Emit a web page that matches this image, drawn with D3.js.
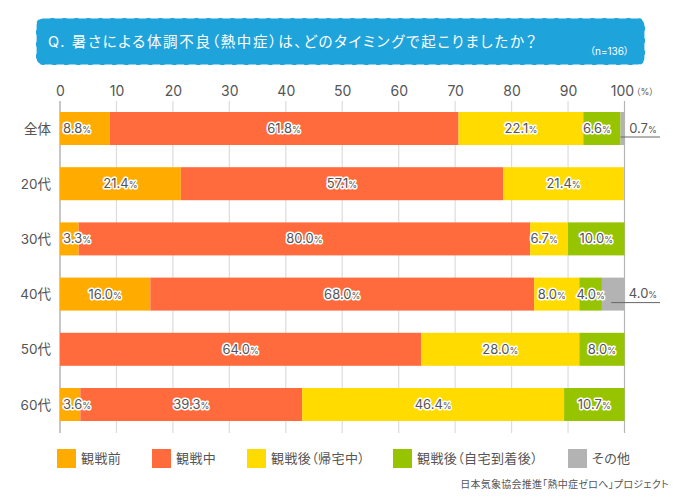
<!DOCTYPE html>
<html>
<head>
<meta charset="utf-8">
<script src="https://cdn.jsdelivr.net/npm/d3@7"></script>
<style>
  html, body { margin: 0; padding: 0; background: #fff; }
  text { font-family: Inter, "Noto Sans CJK JP", sans-serif; fill: #555; font-feature-settings: "palt"; }
</style>
</head>
<body>
<svg id="chart" width="680" height="498"></svg>
<script>
var categories = ["全体", "20代", "30代", "40代", "50代", "60代"];
var seriesNames = ["観戦前", "観戦中", "観戦後（帰宅中）", "観戦後（自宅到着後）", "その他"];
var seriesKeys = ["before", "during", "home", "after", "other"];
var before = [8.8, 21.4, 3.3, 16.0, 0, 3.6];
var during = [61.8, 57.1, 80.0, 68.0, 64.0, 39.3];
var home = [22.1, 21.4, 6.7, 8.0, 28.0, 46.4];
var after = [6.6, 0, 10.0, 4.0, 8.0, 10.7];
var other = [0.7, 0, 0, 4.0, 0, 0];
var colors = ["#ffab00", "#ff6b3d", "#ffdb00", "#96c400", "#b3b3b3"];
var ticks = [0, 10, 20, 30, 40, 50, 60, 70, 80, 90, 100];

var svg = d3.select("#chart");

var rows = categories.map(function(c, i) {
  return {cat: c, before: before[i], during: during[i], home: home[i], after: after[i], other: other[i]};
});

var x = d3.scaleLinear().domain([0, 100]).range([60, 624.5]);
var y = d3.scalePoint().domain(categories).range([128.5, 404.5]);
var barH = 33;
var stacked = d3.stack().keys(seriesKeys)(rows);

// title box
svg.append("rect")
  .attr("x", 36).attr("y", 18).attr("width", 609).attr("height", 47).attr("rx", 7)
  .attr("fill", "#1fa3db");
svg.append("rect")
  .attr("x", 36).attr("y", 18).attr("width", 609).attr("height", 47).attr("rx", 7)
  .attr("fill", "none").attr("stroke", "#fff").attr("stroke-width", 1.2)
  .attr("stroke-dasharray", "7 5").attr("stroke-linecap", "round");
svg.append("text").attr("x", 48).attr("y", 47)
  .style("fill", "#fff").style("font-size", "14.5px").style("letter-spacing", "1.7px")
  .text("Q. 暑さによる体調不良（熱中症）は、どのタイミングで起こりましたか？");
svg.append("text").attr("x", 590).attr("y", 55)
  .style("fill", "#fff").style("font-size", "10px")
  .text("（n=136）");

// grid
svg.append("g").selectAll("line").data(ticks).enter().append("line")
  .attr("x1", function(d) { return x(d); })
  .attr("x2", function(d) { return x(d); })
  .attr("y1", 101).attr("y2", 433)
  .attr("stroke", function(d) { return d === 0 || d === 100 ? "#b5b5b5" : "#dcdcdc"; })
  .attr("stroke-width", function(d) { return d === 0 ? 1.5 : 1.2; });

// axis
var axis = svg.append("g")
  .attr("transform", "translate(0,100)")
  .call(d3.axisTop(x).tickValues(ticks).tickSize(0).tickPadding(4));
axis.select(".domain").remove();
axis.selectAll("text")
  .style("font-size", "14px")
  .style("font-family", "Inter, sans-serif")
  .style("fill", "#555")
  .attr("dx", function(d) { return d === 100 ? -2.5 : 0; });
svg.append("text").attr("x", 636).attr("y", 95).style("font-size", "9px").text("（%）");

// category labels
svg.append("g").selectAll("text").data(categories).enter().append("text")
  .attr("x", 51).attr("y", function(d) { return y(d) + 5; })
  .attr("text-anchor", "end")
  .style("font-size", "13.5px")
  .text(function(d) { return d; });

// bars
var layers = svg.append("g").selectAll("g").data(stacked).enter().append("g")
  .attr("fill", function(d, i) { return colors[i]; });
layers.selectAll("rect")
  .data(function(d) { return d.filter(function(p) { return p[1] > p[0]; }); })
  .enter().append("rect")
  .attr("x", function(d) { return x(d[0]); })
  .attr("width", function(d) { return x(Math.min(d[1], 100)) - x(d[0]); })
  .attr("y", function(d) { return y(d.data.cat) - barH / 2; })
  .attr("height", barH);

// value labels, short segments sit at the left of the bar or lean left
var labels = [];
stacked.forEach(function(layer) {
  layer.forEach(function(p) {
    if (p[1] <= p[0] || layer.key === "other") return;
    labels.push({cat: p.data.cat, key: layer.key, from: p[0], to: p[1], value: p.data[layer.key]});
  });
});

function drawValue(g, value) {
  g.append("tspan").text(value.toFixed(1));
  g.append("tspan").style("font-size", "9px").text("%");
}

function isShortFirst(d) { return d.key === "before" && d.value < 10; }

function labelX(d) {
  var mid = (x(d.from) + x(d.to)) / 2;
  if (isShortFirst(d)) return x(d.from) + 3;
  if (d.key === "home" && d.value < 9) return mid - 5;
  if (d.key === "after" && d.value > 5 && d.value < 7) return mid - 5;
  return mid;
}

// halo first, then the text on top so the white never eats the digits
var valueLayer = svg.append("g");
[true, false].forEach(function(halo) {
  var t = valueLayer.append("g").selectAll("text").data(labels).enter().append("text")
    .attr("x", labelX)
    .attr("y", function(d) { return y(d.cat) + 4.5; })
    .attr("text-anchor", function(d) { return isShortFirst(d) ? "start" : "middle"; })
    .style("font-size", "13px");
  if (halo) t.style("stroke", "#fff").style("stroke-width", "3px").style("stroke-linejoin", "round").style("fill", "#fff");
  t.each(function(d) { drawValue(d3.select(this), d.value); });
});

// callouts for the grey segment
var callouts = rows.filter(function(r) { return r.other > 0; });
var outer = svg.append("g").selectAll("g").data(callouts).enter().append("g");
outer.append("line")
  .attr("x1", function(d) { return x(100 - d.other / 2) - 2; })
  .attr("x2", 660)
  .attr("y1", function(d) { return y(d.cat) + 8.5; })
  .attr("y2", function(d) { return y(d.cat) + 8.5; })
  .attr("stroke", "#666").attr("stroke-width", 1);
var outerText = outer.append("text")
  .attr("x", 643)
  .attr("y", function(d) { return y(d.cat) + 4; })
  .attr("text-anchor", "middle")
  .style("font-size", "13px");
outerText.each(function(d) { drawValue(d3.select(this), d.other); });

// legend
var legendX = [57, 152, 247, 393, 568];
var legend = svg.append("g").selectAll("g").data(seriesNames).enter().append("g")
  .attr("transform", function(d, i) { return "translate(" + legendX[i] + ",449)"; });
legend.append("rect").attr("width", 19).attr("height", 19)
  .attr("fill", function(d, i) { return colors[i]; });
legend.append("text").attr("x", 24).attr("y", 14)
  .style("font-size", "13px").style("letter-spacing", "0.4px")
  .text(function(d) { return d; });

svg.append("text").attr("x", 669).attr("y", 488).attr("text-anchor", "end")
  .style("font-size", "10px").style("letter-spacing", "0.25px")
  .text("日本気象協会推進「熱中症ゼロへ」プロジェクト");
</script>
</body>
</html>
